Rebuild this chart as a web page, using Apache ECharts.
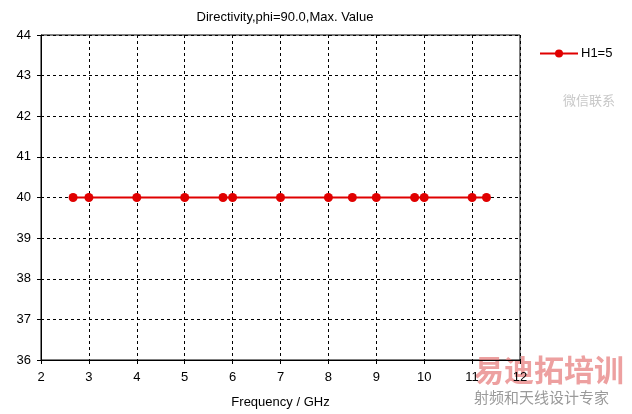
<!DOCTYPE html>
<html><head><meta charset="utf-8">
<script src="https://cdn.jsdelivr.net/npm/echarts@6/dist/echarts.min.js"></script>
<style>html,body{margin:0;padding:0;background:#fff}#c{width:632px;height:414px}</style>
</head><body><div id="c"></div>
<script>
const freqs = [2.67, 3.0, 4.0, 5.0, 5.8, 6.0, 7.0, 8.0, 8.5, 9.0, 9.8, 10.0, 11.0, 11.3];
const directivity = [40, 40, 40, 40, 40, 40, 40, 40, 40, 40, 40, 40, 40, 40];
const seriesName = 'H1=5';
const titleText = 'Directivity,phi=90.0,Max. Value';
const xLabel = 'Frequency / GHz';

const font = 'Liberation Sans, Arial, sans-serif';
const chart = echarts.init(document.getElementById('c'));
chart.setOption({
  animation: false,
  backgroundColor: '#fff',
  title: { text: titleText, left: 280, textAlign: 'center', top: 6,
    textStyle: { fontFamily: font, fontSize: 13, fontWeight: 'normal', color: '#000' } },
  legend: { left: 534, top: 42, itemWidth: 38, itemHeight: 10, itemGap: 4,
    data: [{ name: seriesName }],
    textStyle: { fontFamily: font, fontSize: 13, color: '#000', padding: [0, 0, 0, -2] } },
  grid: { left: 41, right: 112, top: 35, bottom: 53, show: true, borderColor: '#000', borderWidth: 1 },
  xAxis: { type: 'value', min: 2, max: 12, interval: 1,
    name: xLabel, nameLocation: 'middle', nameGap: 36,
    nameTextStyle: { fontFamily: font, fontSize: 13, color: '#000' },
    axisLine: { lineStyle: { color: '#000' } },
    axisTick: { show: true, length: 4, lineStyle: { color: '#000' } },
    axisLabel: { fontFamily: font, fontSize: 13, color: '#000', margin: 11 },
    splitLine: { lineStyle: { color: '#000', type: [3, 3] } } },
  yAxis: { type: 'value', min: 36, max: 44, interval: 1,
    axisLine: { show: true, lineStyle: { color: '#000' } },
    axisTick: { show: true, length: 4, lineStyle: { color: '#000' } },
    axisLabel: { fontFamily: font, fontSize: 13, color: '#000', margin: 10 },
    splitLine: { lineStyle: { color: '#000', type: [3, 3] } } },
  series: [{ name: seriesName, type: 'line',
    data: freqs.map((f, i) => [f, directivity[i]]),
    symbol: 'circle', symbolSize: 9,
    lineStyle: { color: '#e00000', width: 2 },
    itemStyle: { color: '#e00000' } }],
  graphic: [
    { type: 'text', left: 563, top: 94, style: { text: '微信联系', fontFamily: 'Noto Sans CJK SC', fontSize: 13, fill: '#c8c8c8' } },
    { type: 'text', left: 474, top: 355, style: { text: '易迪拓培训', fontFamily: 'Noto Sans CJK SC', fontSize: 30, fontWeight: 'bold', fill: 'rgba(230,120,120,0.7)' } },
    { type: 'text', left: 474, top: 390, style: { text: '射频和天线设计专家', fontFamily: 'Noto Sans CJK SC', fontSize: 15, fill: '#9a9a9a' } }
  ]
});
</script></body></html>
